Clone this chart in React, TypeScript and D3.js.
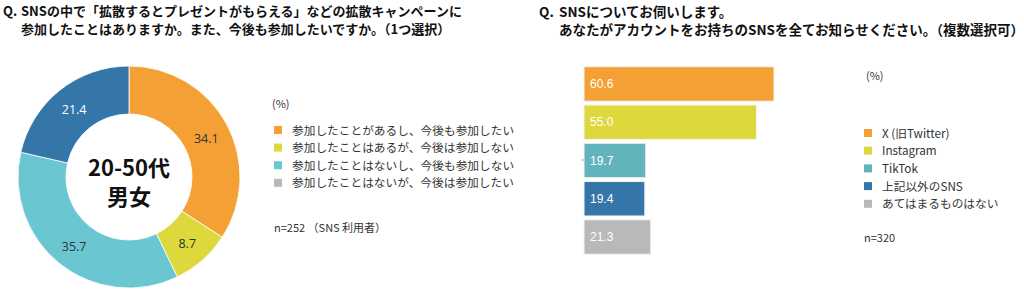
import React from "react";
import * as d3 from "d3";

const donutLabels = [
  "参加したことがあるし、今後も参加したい",
  "参加したことはあるが、今後は参加しない",
  "参加したことはないし、今後も参加しない",
  "参加したことはないが、今後は参加したい",
];
const donutValues = [34.1, 8.7, 35.7, 21.4];
const donutColors = ["#F4A034", "#DDD93C", "#6AC6D1", "#3476A8"];
const donutLegendColors = ["#F4A034", "#DDD93C", "#6AC6D1", "#B9B9B9"];

const barCategories = ["X (旧Twitter)", "Instagram", "TikTok", "上記以外のSNS", "あてはまるものはない"];
const barValues = [60.6, 55.0, 19.7, 19.4, 21.3];
const barColors = ["#F4A034", "#DDD93C", "#62B4BC", "#3476A8", "#B9B9B9"];

const JP = "'Noto Sans CJK JP', 'Noto Sans', sans-serif";

export default function App() {
  const cx = 129, cy = 177, rOuter = 111, rInner = 63;
  const pie = d3.pie<number>().sort(null).value((d) => d)(donutValues);
  const arc = d3.arc<d3.PieArcDatum<number>>().innerRadius(rInner).outerRadius(rOuter);
  const labelArc = d3.arc<d3.PieArcDatum<number>>().innerRadius(88).outerRadius(88);

  const x = d3.scaleLinear().domain([0, 100]).range([584, 897.5]);
  const y = d3.scaleBand<string>().domain(barCategories).range([66, 255]).paddingInner(0.1).paddingOuter(0.02);

  return (
    <svg width={1024} height={294} style={{ position: "absolute", left: 0, top: 0, background: "#fff" }}>
      {/* Left title */}
      <g fontFamily={JP} fontWeight={700} fontSize={13} fill="#111">
        <text x={3} y={16}>Q.</text>
        <text x={21} y={16}>SNSの中で「拡散するとプレゼントがもらえる」などの拡散キャンペーンに</text>
        <text x={21} y={34}>参加したことはありますか。また、今後も参加したいですか。（1つ選択）</text>
      </g>
      {/* Donut */}
      <g transform={`translate(${cx},${cy})`}>
        {pie.map((p, i) => (
          <path key={i} d={arc(p) as string} fill={donutColors[i]} stroke="#fff" strokeWidth={0.8} />
        ))}
        {pie.map((p, i) => {
          const [lx, ly] = labelArc.centroid(p);
          return (
            <text key={"l" + i} x={lx} y={ly + (i === 0 ? 4 : 1)} dy="0.35em" textAnchor="middle" fontFamily="'Open Sans', sans-serif"
              fontSize={12.5} fill={i === 3 ? "#fff" : "#333"}>
              {donutValues[i].toFixed(1)}
            </text>
          );
        })}
        <text x={0} y={-1} textAnchor="middle" fontFamily={JP} fontWeight={700} fontSize={22} fill="#111">20-50代</text>
        <text x={0} y={28} textAnchor="middle" fontFamily={JP} fontWeight={700} fontSize={22} fill="#111">男女</text>
      </g>
      {/* Left legend */}
      <g fontFamily={JP} fontSize={11.7} fill="#333">
        <text x={272} y={108} fontSize={11}>(%)</text>
        {donutLabels.map((t, i) => (
          <g key={i}>
            <rect x={274} y={126 + i * 17.6} width={8} height={8} fill={donutLegendColors[i]} />
            <text x={292} y={134.5 + i * 17.6}>{t}</text>
          </g>
        ))}
        <text x={274} y={232} fontSize={11}>n=252 （SNS 利用者）</text>
      </g>

      {/* Right title */}
      <g fontFamily={JP} fontWeight={700} fontSize={13.5} fill="#111">
        <text x={539} y={17}>Q.</text>
        <text x={559} y={17}>SNSについてお伺いします。</text>
        <text x={559} y={35}>あなたがアカウントをお持ちのSNSを全てお知らせください。（複数選択可）</text>
      </g>
      {/* Bars */}
      <g>
        {barCategories.map((c, i) => (
          <g key={c}>
            <rect x={x(0)} y={y(c)} width={x(barValues[i]) - x(0)} height={y.bandwidth()} fill={barColors[i]}
              stroke="#f3f3f3" strokeWidth={1} />
            <text x={x(0) + 6} y={(y(c) as number) + y.bandwidth() / 2} dy="0.35em" fontFamily="'Liberation Sans', Arial, sans-serif"
              fontSize={12} fill="#fff">{barValues[i].toFixed(1)}</text>
          </g>
        ))}
        <line x1={581} x2={584} y1={160} y2={160} stroke="#999" strokeWidth={0.8} />
      </g>
      {/* Right legend */}
      <g fontFamily={JP} fontSize={11.7} fill="#333">
        <text x={866} y={80} fontSize={11}>(%)</text>
        {barCategories.map((t, i) => (
          <g key={t}>
            <rect x={864} y={129 + i * 17.7} width={8} height={8} fill={barColors[i]} />
            <text x={882} y={137.5 + i * 17.7}>{t}</text>
          </g>
        ))}
        <text x={864} y={242} fontSize={11}>n=320</text>
      </g>
    </svg>
  );
}
